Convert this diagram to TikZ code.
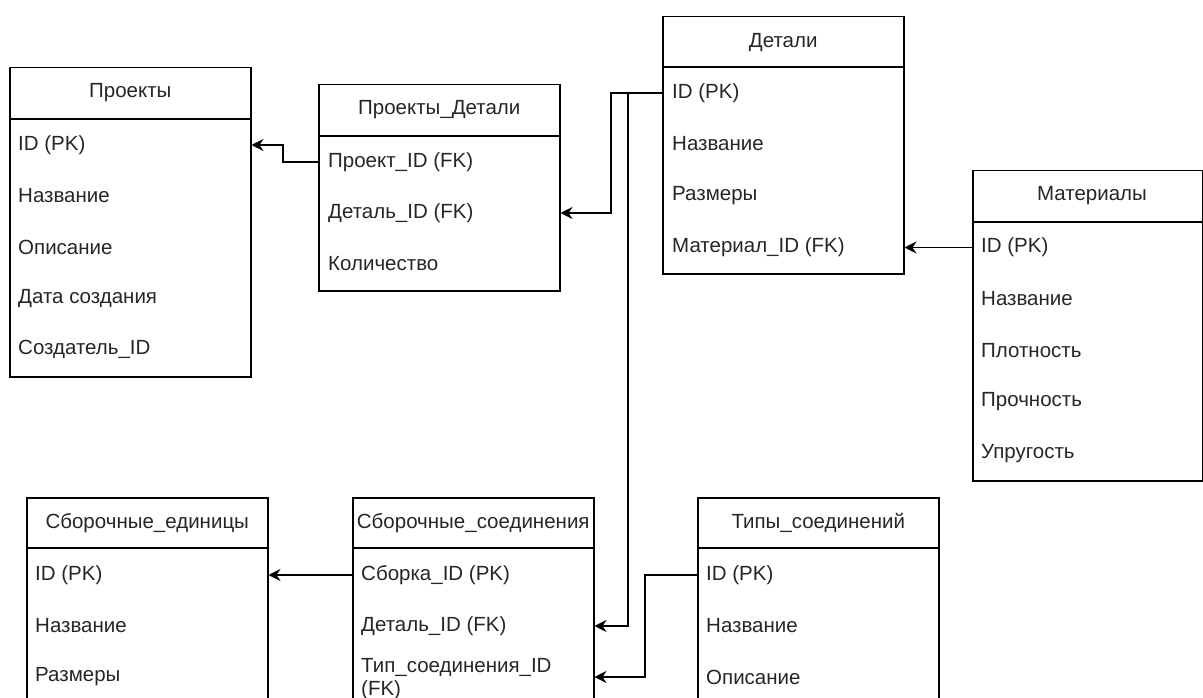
\documentclass[tikz,border=0pt]{standalone}
\usepackage{fontspec}
\setmainfont{Liberation Sans}
\usetikzlibrary{arrows.meta}
\newcommand\erfont{\fontsize{20.5}{23}\selectfont}
\begin{document}
\begin{tikzpicture}[x=1pt,y=-1pt,
  tbl/.style={draw, line width=1.5pt, rectangle, anchor=north west, inner sep=0pt, minimum width=241pt},
  ttl/.style={inner sep=0pt, font=\erfont, text=black!85},
  fld/.style={anchor=west, inner sep=0pt, font=\erfont, align=left, text=black!85},
  rel/.style={line width=1.5pt, -{Stealth[length=12pt,width=12pt,inset=4pt]}},
  hline/.style={line width=1.5pt}]
\useasboundingbox (0,0) rectangle (1203,698);
\clip (0,0) rectangle (1203,698);
\fill[white] (0,0) rectangle (1203,698);

% Проекты
\node[tbl, minimum height=309pt] (proj) at (9,67) {};
\draw[hline] ([yshift=-52pt]proj.north west) -- ([yshift=-52pt]proj.north east);
\node[ttl] (projT) at ([yshift=-26pt]proj.north) {Проекты};
\node[fld] (projI) at (18,145) {ID (PK)};
\node[fld] (projN) at (18,196) {Название};
\node[fld] (projO) at (18,247) {Описание};
\node[fld] (projD) at (18,298) {Дата создания};
\node[fld] (projC) at (18,349) {Создатель\_ID};

% Проекты_Детали
\node[tbl, minimum height=206pt] (pd) at (318,84) {};
\draw[hline] ([yshift=-52pt]pd.north west) -- ([yshift=-52pt]pd.north east);
\node[ttl] (pdT) at ([yshift=-26pt]pd.north) {Проекты\_Детали};
\node[fld] (pdP) at (328,162) {Проект\_ID (FK)};
\node[fld] (pdD) at (328,213) {Деталь\_ID (FK)};
\node[fld] (pdK) at (328,264) {Количество};

% Детали
\node[tbl, minimum height=257pt] (det) at (662,16) {};
\draw[hline] ([yshift=-51pt]det.north west) -- ([yshift=-51pt]det.north east);
\node[ttl] (detT) at ([yshift=-26pt]det.north) {Детали};
\node[fld] (detI) at (672,93) {ID (PK)};
\node[fld] (detN) at (672,144) {Название};
\node[fld] (detR) at (672,196) {Размеры};
\node[fld] (detM) at (672,247.5) {Материал\_ID (FK)};

% Материалы
\node[tbl, minimum width=230pt, minimum height=310pt] (mat) at (972,170) {};
\draw[hline] ([yshift=-52pt]mat.north west) -- ([yshift=-52pt]mat.north east);
\node[ttl] (matT) at (1092,196) {Материалы};
\node[fld] (matI) at (981,247.5) {ID (PK)};
\node[fld] (matN) at (981,299) {Название};
\node[fld] (matP) at (981,351) {Плотность};
\node[fld] (matS) at (981,402) {Прочность};
\node[fld] (matU) at (981,454) {Упругость};

% Сборочные_единицы
\node[tbl, minimum height=240pt] (se) at (26,497) {};
\draw[hline] ([yshift=-51pt]se.north west) -- ([yshift=-51pt]se.north east);
\node[ttl] (seT) at ([yshift=-26pt]se.north) {Сборочные\_единицы};
\node[fld] (seI) at (35,575) {ID (PK)};
\node[fld] (seN) at (35,626) {Название};
\node[fld] (seR) at (35,677) {Размеры};

% Сборочные_соединения
\node[tbl, minimum height=240pt] (sc) at (352,497) {};
\draw[hline] ([yshift=-51pt]sc.north west) -- ([yshift=-51pt]sc.north east);
\node[ttl] (scT0) at ([yshift=-26pt]sc.north) {Сборочные\_соединения};
\node[fld] (scS) at (361,575) {Сборка\_ID (PK)};
\node[fld] (scD) at (361,626) {Деталь\_ID (FK)};
\node[fld] (scT) at (361,679) {Тип\_соединения\_ID\\(FK)};

% Типы_соединений
\node[tbl, minimum height=240pt] (ts) at (697,497) {};
\draw[hline] ([yshift=-51pt]ts.north west) -- ([yshift=-51pt]ts.north east);
\node[ttl] (tsT) at ([yshift=-26pt]ts.north) {Типы\_соединений};
\node[fld] (tsI) at (706,575) {ID (PK)};
\node[fld] (tsN) at (706,626) {Название};
\node[fld] (tsO) at (706,677) {Описание};

% Связи
\draw[rel] (pdP -| pd.west) -- ++(-35,0) |- (projI -| proj.east);
\draw[hline] (detI -| det.west) -- ++(-34,0) coordinate (br);
\draw[rel] (detI -| det.west) -- ++(-51,0) |- (pdD -| pd.east);
\draw[rel] (br) |- (scD -| sc.east);
\draw[rel] (matI -| mat.west) -- (detM -| det.east);
\draw[rel] (scS -| sc.west) -- (seI -| se.east);
\draw[rel] (tsI -| ts.west) -- ++(-52,0) |- ([yshift=2pt]scT.west -| sc.east);
\end{tikzpicture}
\end{document}
